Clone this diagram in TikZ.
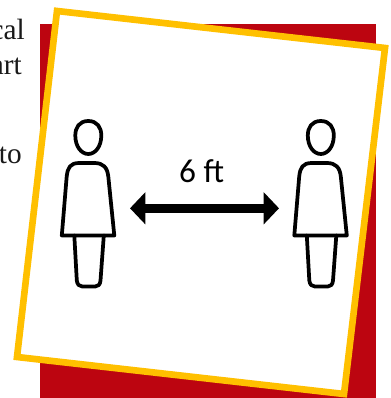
\documentclass[tikz,border=0pt]{standalone}
\usepackage{fontspec}
\usepackage{xcolor}
\usetikzlibrary{arrows.meta}
\setmainfont{Liberation Serif}
\newfontfamily\labelfont{Carlito}
\definecolor{signred}{HTML}{BC0510}
\definecolor{signgold}{HTML}{FFC000}
\tikzset{
    person/.pic={
        \draw[personline] (0,-16.5) .. controls (9,-16.5) and (13,-10) .. (13,-2)
            .. controls (13,9) and (7,16.5) .. (0,16.5)
            .. controls (-7,16.5) and (-13,9) .. (-13,-2)
            .. controls (-13,-10) and (-9,-16.5) .. (0,-16.5) -- cycle;
        \draw[personline] (-26.5,98) -- (-21.6,39) .. controls (-20.6,30) and (-18,25.5) .. (-9,25.5)
            -- (6,25.5) .. controls (15,25.5) and (19,30) .. (20,39) -- (26,98) -- cycle;
        \draw[personline] (-14,98) -- (-11.5,143) .. controls (-11,147) and (-9,149) .. (-6,149)
            -- (7,149) .. controls (10,149) and (11.8,147) .. (12.2,143) -- (15.5,98);
    },
    personline/.style={line width=2.8pt, line join=round, line cap=round, black},
    sidetext/.style={anchor=base east, inner sep=0pt, font=\fontsize{22}{26}\selectfont, text=black!90}
}
\begin{document}
\begin{tikzpicture}[x=0.75pt, y=-0.75pt, >={Triangle[length=11.5pt,width=23.5pt]}]
    \useasboundingbox (0,0) rectangle (390,398);
    \fill[white] (0,0) rectangle (390,398);
    % text running behind the sign
    \node[sidetext] (linea) at (25,40) {cal};
    \node[sidetext] (lineb) at (22,75) {art};
    \node[sidetext] (linec) at (22,164) {to};
    % sign
    \fill[signred] (39.5,24.5) rectangle (375.5,398);
    \draw[signgold, fill=white, line width=5pt, miter limit=10]
        (57,11) -- (385,48) -- (344,394) -- (17,357) -- cycle;
    % people
    \pic (left) at (88.3,137.5) {person};
    \pic (right) at (320.8,137.5) {person};
    % distance
    \coordinate (from) at (130,208.3);
    \coordinate (to) at (279,208.3);
    \draw[<->, line width=6.5pt] (from) -- (to);
    \node[anchor=base, inner sep=0pt, font=\labelfont\fontsize{25}{29}\selectfont] (dist) at (201.7,183) {6 ft};
\end{tikzpicture}
\end{document}
